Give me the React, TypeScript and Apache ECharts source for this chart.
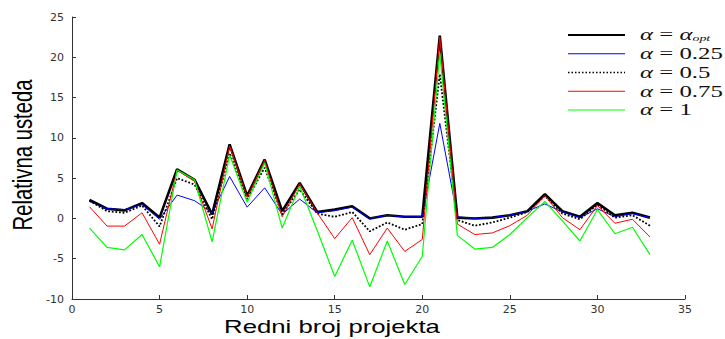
import React, { useEffect, useRef } from "react";
import * as echarts from "echarts";

const projects = [1, 2, 3, 4, 5, 6, 7, 8, 9, 10, 11, 12, 13, 14, 15, 16, 17, 18, 19, 20, 21, 22, 23, 24, 25, 26, 27, 28, 29, 30, 31, 32, 33];
const alphaOpt = [2.3, 1.2, 1.0, 1.9, 0.1, 6.1, 4.8, 0.5, 9.2, 2.8, 7.3, 0.9, 4.4, 0.8, 1.1, 1.5, 0.0, 0.4, 0.2, 0.2, 22.7, 0.1, 0.0, 0.1, 0.4, 0.9, 3.0, 0.9, 0.2, 1.9, 0.4, 0.7, 0.1];
const alpha025 = [2.1, 1.2, 1.1, 1.7, -0.1, 2.9, 2.2, 0.7, 5.2, 1.4, 3.8, 0.5, 2.4, 0.7, 0.95, 1.4, 0.0, 0.4, 0.2, 0.2, 11.8, 0.2, 0.0, 0.1, 0.4, 0.9, 1.8, 0.8, 0.1, 1.2, 0.2, 0.6, 0.1];
const alpha05 = [2.2, 0.9, 0.7, 1.6, -1.0, 5.0, 4.2, -0.1, 8.1, 2.4, 6.3, 0.5, 3.6, 0.6, 0.2, 0.8, -1.6, -0.5, -1.4, -0.7, 17.9, -0.2, -0.9, -0.5, 0.1, 0.8, 2.8, 0.6, -0.1, 1.7, 0.1, 0.4, -0.9];
const alpha075 = [1.45, -0.95, -0.95, 0.7, -3.2, 6.0, 4.6, -1.3, 9.0, 2.6, 7.2, 0.2, 4.3, 0.7, -2.5, 0.1, -4.5, -1.2, -4.1, -2.6, 22.5, -0.7, -2.0, -1.8, -0.9, 0.4, 2.85, 0.1, -1.4, 1.6, -0.6, -0.1, -2.3];
const alpha1 = [-1.2, -3.6, -3.9, -2.0, -6.0, 6.0, 4.8, -2.9, 7.9, 2.0, 6.9, -1.2, 4.0, -1.5, -7.2, -2.7, -8.5, -2.8, -8.2, -4.7, 20.5, -2.1, -3.8, -3.6, -2.0, 0.1, 2.1, -0.3, -2.8, 1.1, -1.9, -1.1, -4.5];
const seriesNames = ["α = α_opt", "α = 0.25", "α = 0.5", "α = 0.75", "α = 1"];
const legendValues = ["", "0.25", "0.5", "0.75", "1"];
const xTitle = "Redni broj projekta";
const yTitle = "Relativna usteda";

export default function App() {
  const ref = useRef<HTMLDivElement>(null);
  useEffect(() => {
    if (!ref.current) return;
    const chart = echarts.init(ref.current, null, { renderer: "svg" });
    const all = [alphaOpt, alpha025, alpha05, alpha075, alpha1];
    const colors = ["#000000", "#0000ff", "#000000", "#ff0000", "#00ff00"];
    const widths = [2.6, 1, 1.8, 1, 1.2];
    const types = ["solid", "solid", "dotted", "solid", "solid"];
    const series = all.map((vals, i) => ({
      name: seriesNames[i],
      type: "line",
      symbol: "none",
      data: projects.map((p, j) => [p, vals[j]]),
      lineStyle: { color: colors[i], width: widths[i], type: types[i] },
      z: 2 + i,
    }));
    const legendLines: any[] = [];
    const legendTop = 35;
    const step = 18.75;
    const serif = "Liberation Serif";
    for (let i = 0; i < 5; i++) {
      const y = legendTop + i * step;
      legendLines.push({
        type: "line",
        shape: { x1: 568, y1: y, x2: 625, y2: y },
        style: { stroke: colors[i], lineWidth: i === 0 ? 2 : i === 2 ? 1.6 : 1, lineDash: i === 2 ? [1.5, 2] : null },
      });
      const text = i === 0 ? "{i|α} = {i|α}{s|opt}" : "{i|α} = " + legendValues[i];
      legendLines.push({
        type: "text",
        x: 640,
        y: y,
        scaleX: 1.55,
        style: {
          text,
          rich: {
            i: { fontStyle: "italic", fontFamily: serif, fontSize: 16 },
            s: { fontStyle: "italic", fontFamily: serif, fontSize: 9, padding: [7, 0, 0, 0] },
          },
          fontFamily: serif,
          fontSize: 16,
          fill: "#111",
          verticalAlign: "middle",
          align: "left",
        },
      });
    }
    const axisCommon = {
      axisLine: { show: true, onZero: false, lineStyle: { color: "#333", width: 1 } },
      axisTick: { show: true, inside: true, length: 4, lineStyle: { color: "#333" } },
      axisLabel: { color: "#333", fontFamily: "DejaVu Sans", fontSize: 11 },
      splitLine: { show: false },
    };
    chart.setOption({
      animation: false,
      grid: { left: 72, right: 40, top: 17, bottom: 40 },
      xAxis: { type: "value", min: 0, max: 35, interval: 5, ...axisCommon, axisLabel: { ...axisCommon.axisLabel, margin: 5 } },
      yAxis: { type: "value", min: -10, max: 25, interval: 5, ...axisCommon, axisLabel: { ...axisCommon.axisLabel, margin: 8 } },
      series,
      graphic: [
        {
          type: "text",
          x: 332,
          y: 327,
          scaleX: 1.43,
          style: { text: xTitle, fontFamily: "Liberation Sans", fontSize: 18, fill: "#000", align: "center", verticalAlign: "middle" },
        },
        {
          type: "text",
          x: 22,
          y: 155,
          rotation: Math.PI / 2,
          scaleX: 0.75,
          style: { text: yTitle, fontFamily: "Liberation Sans", fontSize: 27, fill: "#000", align: "center", verticalAlign: "middle" },
        },
        ...legendLines,
      ],
    });
    return () => chart.dispose();
  }, []);
  return <div ref={ref} style={{ width: 725, height: 339, position: "absolute", left: 0, top: 0 }} />;
}
